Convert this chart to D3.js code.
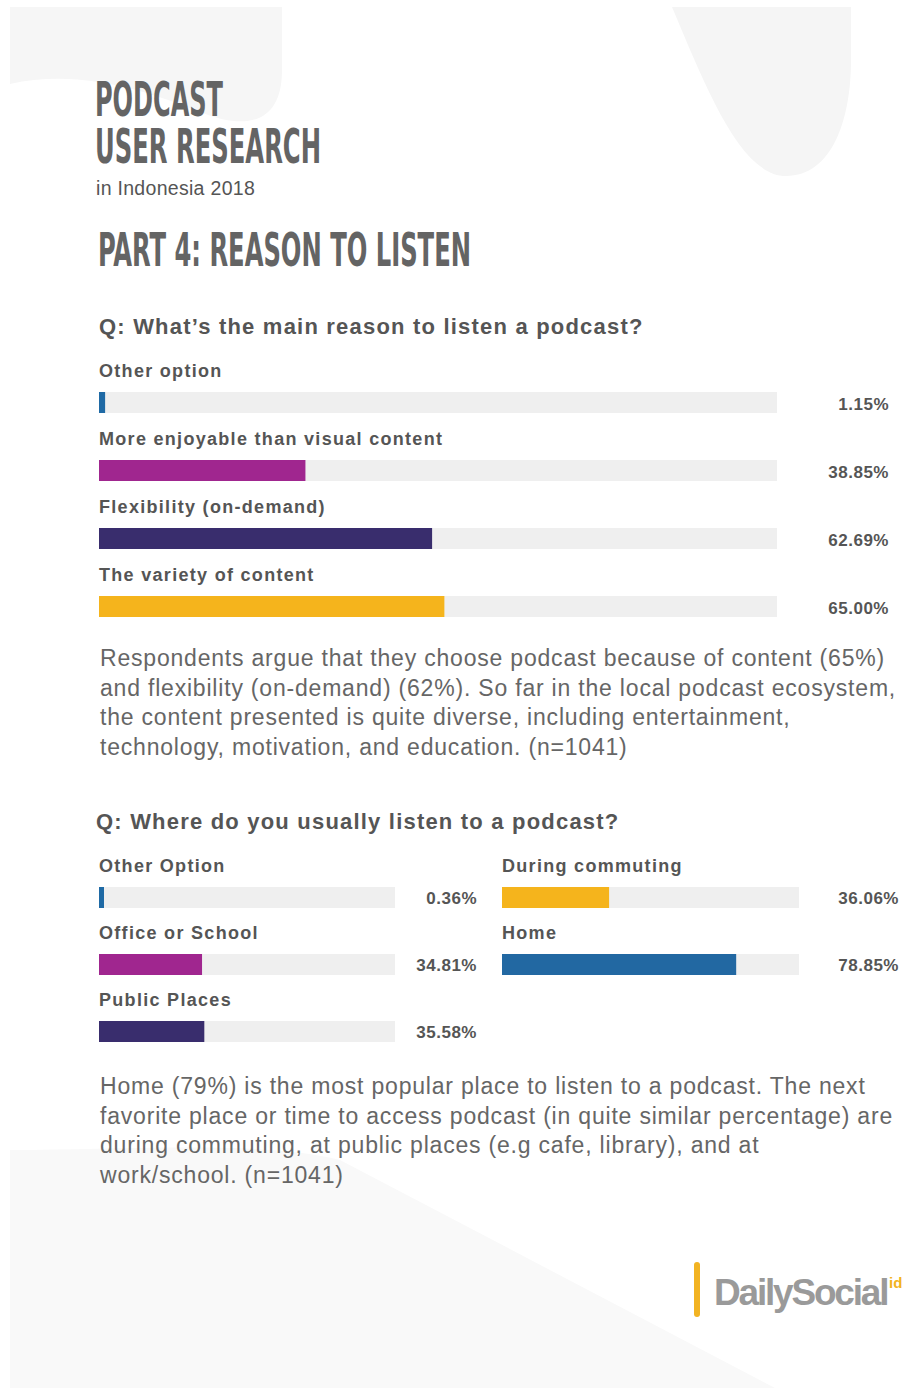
<!DOCTYPE html>
<html>
<head>
<meta charset="utf-8">
<script src="https://cdn.jsdelivr.net/npm/d3@7"></script>
<style>
  html, body { margin: 0; padding: 0; background: #fff; }
  svg { display: block; }
  .ttl { font-family: "DejaVu Sans Condensed", "DejaVu Sans", sans-serif; font-weight: bold; fill: #646464; }
  .sub { font-family: "Liberation Sans", Arial, sans-serif; font-size: 19.5px; fill: #555; letter-spacing: 0.3px; }
  .q { font-family: "Liberation Sans", Arial, sans-serif; font-weight: bold; font-size: 22px; fill: #555; letter-spacing: 1.2px; }
  .lab { font-family: "Liberation Sans", Arial, sans-serif; font-weight: bold; font-size: 18px; fill: #555; letter-spacing: 1.3px; }
  .val { font-family: "Liberation Sans", Arial, sans-serif; font-weight: bold; font-size: 17px; fill: #555; letter-spacing: 0.5px; }
  .para { font-family: "Liberation Sans", Arial, sans-serif; font-size: 23px; fill: #666; letter-spacing: 0.8px; }
</style>
</head>
<body>
<div id="root"></div>
<script>
// --- données ---
const reasonCats = ['Other option', 'More enjoyable than visual content', 'Flexibility (on-demand)', 'The variety of content'];
const reasonVals = [1.15, 38.85, 62.69, 65.00];
const reasonColors = ['#1f6aa5', '#a0268f', '#392d6d', '#f5b41c'];

const placeCats = ['Other Option', 'Office or School', 'Public Places', 'During commuting', 'Home'];
const placeVals = [0.36, 34.81, 35.58, 36.06, 78.85];
const placeColors = ['#1f6aa5', '#a0268f', '#392d6d', '#f5b41c', '#2268a2'];

const para1 = [
  'Respondents argue that they choose podcast because of content (65%)',
  'and flexibility (on-demand) (62%). So far in the local podcast ecosystem,',
  'the content presented is quite diverse, including entertainment,',
  'technology, motivation, and education. (n=1041)'
];
const para2 = [
  'Home (79%) is the most popular place to listen to a podcast. The next',
  'favorite place or time to access podcast (in quite similar percentage) are',
  'during commuting, at public places (e.g cafe, library), and at',
  'work/school. (n=1041)'
];

const W = 903, H = 1390;
const el = document.getElementById('root');
const svg = d3.select(el).append('svg').attr('width', W).attr('height', H);

// fond : formes gris très clair
svg.append('rect').attr('x', 0).attr('y', 0).attr('width', W).attr('height', H).attr('fill', '#fff');
svg.append('path').attr('fill', '#f6f6f6')
  .attr('d', 'M10,7 H282 V70 C282,125 245,130 200,112 C150,92 80,68 10,84 Z');
svg.append('path').attr('fill', '#f5f5f5')
  .attr('d', 'M672,7 C705,85 740,176 786,176 C832,176 851,120 851,60 V7 Z');
svg.append('path').attr('fill', '#f9f9f9')
  .attr('d', 'M10,1150 C120,1150 260,1140 340,1160 L775,1388 L10,1388 Z');

// titres
function fitTitle(txt, x, y, size, w) {
  svg.append('text').attr('class', 'ttl').attr('x', x).attr('y', y)
    .style('font-size', size + 'px')
    .attr('textLength', w).attr('lengthAdjust', 'spacingAndGlyphs')
    .text(txt);
}
fitTitle('PODCAST', 95, 116, 48, 128);
fitTitle('USER RESEARCH', 95, 163, 48, 226);
svg.append('text').attr('class', 'sub').attr('x', 96).attr('y', 195).text('in Indonesia 2018');
fitTitle('PART 4: REASON TO LISTEN', 98, 266, 47, 373);

// --- graphique 1 ---
svg.append('text').attr('class', 'q').attr('x', 99).attr('y', 334)
  .text('Q: What\u2019s the main reason to listen a podcast?');

const track1Max = 127.6;
const x1 = d3.scaleLinear().domain([0, track1Max]).range([99, 777]);
const y1 = d3.scalePoint().domain(reasonCats).range([392, 596]);
const barH = 21;

const g1 = svg.append('g');
reasonCats.forEach((c, i) => {
  const y = y1(c);
  g1.append('text').attr('class', 'lab').attr('x', 99).attr('y', y - 15).text(c);
  g1.append('rect').attr('x', x1(0)).attr('y', y).attr('width', x1(track1Max) - x1(0)).attr('height', barH)
    .attr('fill', '#efefef');
  g1.append('rect').attr('x', x1(0)).attr('y', y)
    .attr('width', Math.max(6, x1(reasonVals[i]) - x1(0))).attr('height', barH)
    .attr('fill', reasonColors[i]);
  g1.append('text').attr('class', 'val').attr('x', 889).attr('y', y + 18)
    .attr('text-anchor', 'end').text(d3.format('.2f')(reasonVals[i]) + '%');
});

svg.append('g').selectAll('text').data(para1).join('text')
  .attr('class', 'para').attr('x', 100).attr('y', (d, i) => 666 + i * 29.6).text(d => d);

// --- graphique 2 ---
svg.append('text').attr('class', 'q').attr('x', 96).attr('y', 829)
  .text('Q: Where do you usually listen to a podcast?');

const cols = [
  { x0: 99, x1: 395, valX: 477, items: [0, 1, 2] },
  { x0: 502, x1: 799, valX: 899, items: [3, 4] }
];
const rowScale = d3.scalePoint().domain([0, 1, 2]).range([887, 1021]);

const g2 = svg.append('g');
cols.forEach(col => {
  const x = d3.scaleLinear().domain([0, 100]).range([col.x0, col.x1]);
  col.items.forEach((idx, r) => {
    const y = rowScale(r);
    g2.append('text').attr('class', 'lab').attr('x', col.x0).attr('y', y - 15).text(placeCats[idx]);
    g2.append('rect').attr('x', x(0)).attr('y', y).attr('width', x(100) - x(0)).attr('height', barH)
      .attr('fill', '#efefef');
    g2.append('rect').attr('x', x(0)).attr('y', y)
      .attr('width', Math.max(5, x(placeVals[idx]) - x(0))).attr('height', barH)
      .attr('fill', placeColors[idx]);
    g2.append('text').attr('class', 'val').attr('x', col.valX).attr('y', y + 17)
      .attr('text-anchor', 'end').text(d3.format('.2f')(placeVals[idx]) + '%');
  });
});

svg.append('g').selectAll('text').data(para2).join('text')
  .attr('class', 'para').attr('x', 100).attr('y', (d, i) => 1094 + i * 29.6).text(d => d);

// logo
svg.append('rect').attr('x', 694).attr('y', 1262).attr('width', 6).attr('height', 55).attr('rx', 3)
  .attr('fill', '#f2b322');
svg.append('text').attr('x', 714).attr('y', 1305)
  .style('font-family', '"Liberation Sans", Arial, sans-serif').style('font-weight', 'bold')
  .style('font-size', '37px').style('letter-spacing', '-2.2px').attr('fill', '#9a9a9a')
  .text('DailySocial');
svg.append('text').attr('x', 889).attr('y', 1288)
  .style('font-family', '"Liberation Sans", Arial, sans-serif').style('font-weight', 'bold')
  .style('font-size', '15px').attr('fill', '#f2b322').text('id');
</script>
</body>
</html>
